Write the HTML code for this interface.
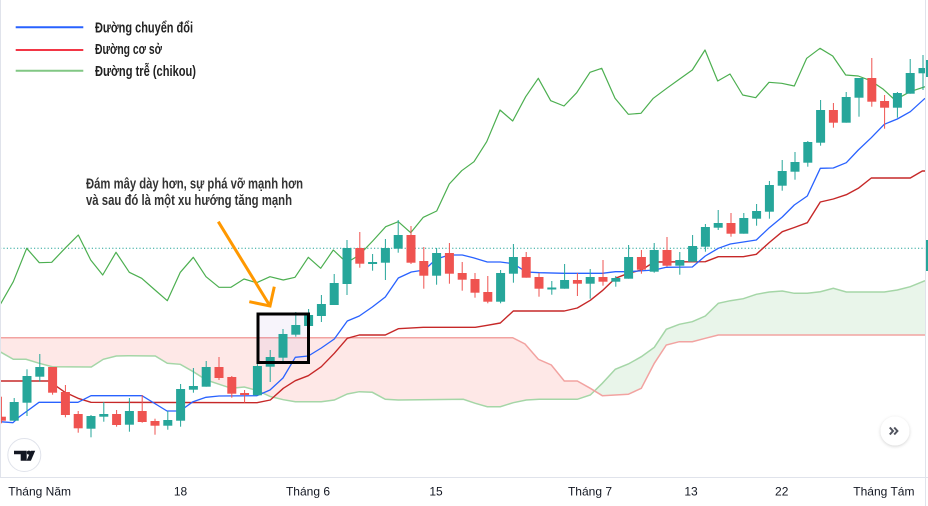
<!DOCTYPE html>
<html><head><meta charset="utf-8">
<style>
html,body{margin:0;padding:0;background:#fff;}
svg{display:block;}
.ax{font-family:"Liberation Sans",sans-serif;font-size:12px;fill:#131722;}
.lg{font-family:"Liberation Sans Narrow","Liberation Sans",sans-serif;font-size:14.5px;font-weight:bold;fill:#222;}
</style></head>
<body>
<svg width="928" height="506" viewBox="0 0 928 506" xmlns="http://www.w3.org/2000/svg">
<defs>
<clipPath id="pane"><rect x="0" y="0" width="925" height="477"/></clipPath>
<clipPath id="cl"><rect x="0" y="0" width="594.5" height="477"/></clipPath>
<clipPath id="cr"><rect x="594.5" y="0" width="331" height="477"/></clipPath>
<filter id="sh" x="-50%" y="-50%" width="200%" height="200%"><feDropShadow dx="0" dy="1" stdDeviation="1.5" flood-color="#000" flood-opacity="0.18"/></filter>
</defs>
<rect width="928" height="506" fill="#fff"/>
<g clip-path="url(#pane)">
<polygon clip-path="url(#cl)" fill="#f44336" fill-opacity="0.12" points="0,351.7 13.3,359.3 26,359.3 39.3,363.3 52.3,366.7 91.3,367 103.3,359.3 116.3,356 129.3,355.7 155.3,356 167.3,363.3 180.3,364.3 193.3,371.7 206.3,380 219.3,384.3 231.3,388.3 244.3,387 257.3,390.5 270.3,396.5 283.3,399.7 295.3,401.7 321.3,401.7 334.3,400 347.3,394 359.3,391.7 372.3,392.3 385.3,399.3 398.3,400 463.3,399.3 475.3,403.3 487.3,406.7 500.3,406.7 513.3,402.7 526.3,400 539.3,399.3 577.3,399.3 590.3,395 602.3,383.3 615.3,369.3 628.3,364 641.3,356.7 654.3,347.3 666.3,329.3 679.3,324.3 692.3,321.7 705.3,316 718.3,303.3 730.3,300.7 743.3,298.7 756.3,294.3 769.3,292 782.3,291 794.3,293.3 807.3,293.3 820.3,291.7 833.3,288.3 846.3,292 884.3,292 897.3,290 910.3,286.7 925,280.7 925,335 718.3,335 705.3,338.3 692.3,341.7 679.3,341.7 666.3,345 654.3,363.3 641.3,388.3 628.3,394.3 602.3,395.7 590.3,388.3 577.3,381 564.3,381 551.3,365 538.3,359.3 525,344 512.7,337.7 0,337.7"/>
<polygon clip-path="url(#cr)" fill="#4caf50" fill-opacity="0.12" points="0,351.7 13.3,359.3 26,359.3 39.3,363.3 52.3,366.7 91.3,367 103.3,359.3 116.3,356 129.3,355.7 155.3,356 167.3,363.3 180.3,364.3 193.3,371.7 206.3,380 219.3,384.3 231.3,388.3 244.3,387 257.3,390.5 270.3,396.5 283.3,399.7 295.3,401.7 321.3,401.7 334.3,400 347.3,394 359.3,391.7 372.3,392.3 385.3,399.3 398.3,400 463.3,399.3 475.3,403.3 487.3,406.7 500.3,406.7 513.3,402.7 526.3,400 539.3,399.3 577.3,399.3 590.3,395 602.3,383.3 615.3,369.3 628.3,364 641.3,356.7 654.3,347.3 666.3,329.3 679.3,324.3 692.3,321.7 705.3,316 718.3,303.3 730.3,300.7 743.3,298.7 756.3,294.3 769.3,292 782.3,291 794.3,293.3 807.3,293.3 820.3,291.7 833.3,288.3 846.3,292 884.3,292 897.3,290 910.3,286.7 925,280.7 925,335 718.3,335 705.3,338.3 692.3,341.7 679.3,341.7 666.3,345 654.3,363.3 641.3,388.3 628.3,394.3 602.3,395.7 590.3,388.3 577.3,381 564.3,381 551.3,365 538.3,359.3 525,344 512.7,337.7 0,337.7"/>
<polyline fill="none" stroke="#a5d6a7" stroke-width="1.5" points="0,351.7 13.3,359.3 26,359.3 39.3,363.3 52.3,366.7 91.3,367 103.3,359.3 116.3,356 129.3,355.7 155.3,356 167.3,363.3 180.3,364.3 193.3,371.7 206.3,380 219.3,384.3 231.3,388.3 244.3,387 257.3,390.5 270.3,396.5 283.3,399.7 295.3,401.7 321.3,401.7 334.3,400 347.3,394 359.3,391.7 372.3,392.3 385.3,399.3 398.3,400 463.3,399.3 475.3,403.3 487.3,406.7 500.3,406.7 513.3,402.7 526.3,400 539.3,399.3 577.3,399.3 590.3,395 602.3,383.3 615.3,369.3 628.3,364 641.3,356.7 654.3,347.3 666.3,329.3 679.3,324.3 692.3,321.7 705.3,316 718.3,303.3 730.3,300.7 743.3,298.7 756.3,294.3 769.3,292 782.3,291 794.3,293.3 807.3,293.3 820.3,291.7 833.3,288.3 846.3,292 884.3,292 897.3,290 910.3,286.7 925,280.7"/>
<polyline fill="none" stroke="#f2a3a1" stroke-width="1.5" points="0,337.7 512.7,337.7 525,344 538.3,359.3 551.3,365 564.3,381 577.3,381 590.3,388.3 602.3,395.7 628.3,394.3 641.3,388.3 654.3,363.3 666.3,345 679.3,341.7 692.3,341.7 705.3,338.3 718.3,335 925,335"/>
<line x1="0" y1="248.3" x2="925" y2="248.3" stroke="#26a69a" stroke-width="1" stroke-dasharray="1.2 2.2"/>
<rect x="258" y="314" width="50.5" height="48.5" fill="#9b78d2" fill-opacity="0.08"/>
<polyline fill="none" stroke="#4caf50" stroke-width="1.2" stroke-linejoin="round" points="0,305 13.3,281.7 26.7,248.3 39.3,262.7 51.7,262.3 65,248.3 78.3,235 90.7,260 102.7,275 116,252.3 129.3,272.3 141.7,278.3 155,290 167.3,300.7 180.3,272.3 193.3,257.3 206,276.7 219,287.3 231,287.3 244,279 256.7,282.7 270,276.7 283.3,280 295,277.3 308.3,257.3 320.7,268.3 333.3,250 346.7,262.7 359.3,255 372.7,241 385.7,226.7 398.3,221.7 410.7,232.7 423.3,217.3 436.7,211 449.3,184 461.7,170.7 474,161.7 486.7,141.7 500,110 512.7,121 525.7,96.7 538.3,78.3 550.7,100.7 564,106 576.7,92.7 590,72.3 601.7,68.3 615,98.3 628.3,114.3 641,113.3 653.3,98.3 666.7,88.3 679.3,79.3 692.3,70 705,50 717.7,81 730,74 742.7,95 755.7,97.7 769,82.3 781.7,83.3 794.3,86 806.7,58.3 820,48.3 832.7,56 845.7,75 858.3,76 870.7,80.7 883.3,89.3 895,100 910,91.7 925,86.7"/>
<polyline fill="none" stroke="#c62828" stroke-width="1.4" stroke-linejoin="round" points="0,381 52,381 57,386.7 65,392.3 78,398.3 91,402.3 257,402.7 270.3,400 283.3,388.3 295.3,380.7 308.3,375.7 321.3,366.7 334.3,353.3 347.3,338.3 359.3,335 385.3,335 398.3,328.7 423.3,327.3 475.3,327.3 487.3,325.3 500.3,323 513.3,311 564.3,311 577.3,308 590.3,300.3 602.3,290.7 615.3,278.3 628.3,273.3 641.3,270 654.3,262 705.3,261.7 718.3,256.7 743.3,256.7 756.3,254.3 769.3,242.5 782.3,231.7 794.3,227.5 807.3,222.7 820.3,202 833.3,199 846.3,194.7 858.3,188.3 871.3,178 910.3,178 922.3,171 925,171"/>
<polyline fill="none" stroke="#2962ff" stroke-width="1.3" stroke-linejoin="round" points="0,421.7 13,422.7 19,417 39,402.3 78,402.3 91,395.7 142,395.7 167,411 180,411 193,401.7 206,397.3 219,396 257,395.7 270,390 283,378 295.3,357.3 308.3,356 321.3,348 334.3,339 347.3,321 359.3,316 372.3,307 385.3,297 398.3,278 411.3,272 424.3,270 436.3,259 449.3,255 462.3,255 473.3,257.7 487.3,262 500.3,262 513.3,263.7 526.3,272 539.3,272.7 564.3,273.3 602.3,273.3 615.3,271.7 628.3,271.7 654.3,270 666.3,267.3 692.3,267 705.3,256 718.3,248.3 730.3,244 743.3,242 756.3,240 769.3,227.7 782.3,217 794.3,205 807.3,196 820.3,168.3 833.3,168 846.3,162.7 858.3,150 871.3,137.7 884.3,124.3 897.3,119 910.3,111.7 925,98.3"/>
<g fill="#26a69a">
<rect x="13.7" y="398" width="1" height="22.7"/><rect x="9.7" y="402" width="9" height="18.7"/>
<rect x="26.5" y="369.3" width="1" height="46.7"/><rect x="22.5" y="376" width="9" height="26.7"/>
<rect x="39.3" y="354" width="1" height="27.7"/><rect x="35.3" y="367" width="9" height="9.7"/>
<rect x="90.5" y="415" width="1" height="22.3"/><rect x="86.5" y="416" width="9" height="12.7"/>
<rect x="103.3" y="402" width="1" height="19.7"/><rect x="99.3" y="414" width="9" height="2.7"/>
<rect x="128.9" y="398" width="1" height="33.7"/><rect x="124.9" y="411" width="9" height="13.7"/>
<rect x="167.3" y="411" width="1" height="18.7"/><rect x="163.3" y="420" width="9" height="5.7"/>
<rect x="180.1" y="384" width="1" height="42.7"/><rect x="176.1" y="389" width="9" height="31.7"/>
<rect x="192.9" y="368" width="1" height="24.7"/><rect x="188.9" y="386" width="9" height="3.7"/>
<rect x="205.7" y="361" width="1" height="25.7"/><rect x="201.7" y="367" width="9" height="19.7"/>
<rect x="256.9" y="362.7" width="1" height="32.6"/><rect x="252.9" y="366" width="9" height="29.3"/>
<rect x="269.7" y="350" width="1" height="32"/><rect x="265.7" y="357" width="9" height="9.7"/>
<rect x="282.5" y="329" width="1" height="34.3"/><rect x="278.5" y="334" width="9" height="23.7"/>
<rect x="295.3" y="312" width="1" height="24.7"/><rect x="291.3" y="325" width="9" height="9.7"/>
<rect x="308.1" y="309" width="1" height="17"/><rect x="304.1" y="315" width="9" height="11"/>
<rect x="320.9" y="295" width="1" height="27"/><rect x="316.9" y="304" width="9" height="12"/>
<rect x="333.7" y="274" width="1" height="31"/><rect x="329.7" y="283" width="9" height="22"/>
<rect x="346.5" y="240" width="1" height="55"/><rect x="342.5" y="248" width="9" height="36"/>
<rect x="372.1" y="254" width="1" height="16.7"/><rect x="368.1" y="262" width="9" height="2"/>
<rect x="384.9" y="239" width="1" height="41"/><rect x="380.9" y="248" width="9" height="14.7"/>
<rect x="397.7" y="220" width="1" height="32.7"/><rect x="393.7" y="235" width="9" height="13.7"/>
<rect x="436.1" y="248" width="1" height="36.7"/><rect x="432.1" y="253" width="9" height="22.7"/>
<rect x="500.1" y="270" width="1" height="33.3"/><rect x="496.1" y="273" width="9" height="28.7"/>
<rect x="512.9" y="244" width="1" height="38.7"/><rect x="508.9" y="257" width="9" height="16.7"/>
<rect x="551.3" y="281" width="1" height="13.7"/><rect x="547.3" y="287.5" width="9" height="2"/>
<rect x="564.1" y="264" width="1" height="24.7"/><rect x="560.1" y="280" width="9" height="8.7"/>
<rect x="589.7" y="269" width="1" height="29.7"/><rect x="585.7" y="277" width="9" height="6.7"/>
<rect x="615.3" y="276" width="1" height="10.7"/><rect x="611.3" y="278" width="9" height="3.7"/>
<rect x="628.1" y="245" width="1" height="33.7"/><rect x="624.1" y="257" width="9" height="21.7"/>
<rect x="653.7" y="243" width="1" height="29.7"/><rect x="649.7" y="250" width="9" height="21.7"/>
<rect x="679.3" y="252" width="1" height="22.7"/><rect x="675.3" y="260" width="9" height="5.7"/>
<rect x="692.1" y="235" width="1" height="26.7"/><rect x="688.1" y="246" width="9" height="15.7"/>
<rect x="704.9" y="224" width="1" height="27.7"/><rect x="700.9" y="227" width="9" height="19.7"/>
<rect x="717.7" y="210" width="1" height="20"/><rect x="713.7" y="223" width="9" height="4.7"/>
<rect x="743.3" y="213" width="1" height="20.7"/><rect x="739.3" y="218" width="9" height="15.7"/>
<rect x="756.1" y="204" width="1" height="21.7"/><rect x="752.1" y="211" width="9" height="7.7"/>
<rect x="768.9" y="181" width="1" height="37.7"/><rect x="764.9" y="185" width="9" height="26.7"/>
<rect x="781.7" y="160" width="1" height="30.7"/><rect x="777.7" y="171" width="9" height="14.7"/>
<rect x="794.5" y="152" width="1" height="27.7"/><rect x="790.5" y="162" width="9" height="9.7"/>
<rect x="807.3" y="141" width="1" height="25.7"/><rect x="803.3" y="142" width="9" height="20.7"/>
<rect x="820.1" y="100" width="1" height="45.7"/><rect x="816.1" y="110" width="9" height="32.7"/>
<rect x="845.7" y="92" width="1" height="30.7"/><rect x="841.7" y="97" width="9" height="25.7"/>
<rect x="858.5" y="78" width="1" height="38.7"/><rect x="854.5" y="78" width="9" height="19.7"/>
<rect x="896.9" y="92" width="1" height="25.7"/><rect x="892.9" y="93" width="9" height="14.7"/>
<rect x="909.7" y="59" width="1" height="34.7"/><rect x="905.7" y="73" width="9" height="20.7"/>
<rect x="922.5" y="55" width="1" height="35"/><rect x="918.5" y="68" width="9" height="5.3"/>
</g>
<g fill="#ef5350">
<rect x="0.9" y="396.7" width="1" height="26.6"/><rect x="-3.1" y="416.7" width="9" height="4"/>
<rect x="52.1" y="367" width="1" height="27.7"/><rect x="48.1" y="367" width="9" height="25.7"/>
<rect x="64.9" y="385" width="1" height="32.3"/><rect x="60.9" y="392" width="9" height="23"/>
<rect x="77.7" y="411" width="1" height="21.7"/><rect x="73.7" y="414" width="9" height="14.3"/>
<rect x="116.1" y="410" width="1" height="16.7"/><rect x="112.1" y="414" width="9" height="11"/>
<rect x="141.7" y="395" width="1" height="27.7"/><rect x="137.7" y="411" width="9" height="11"/>
<rect x="154.5" y="418.7" width="1" height="16"/><rect x="150.5" y="421" width="9" height="4.7"/>
<rect x="218.5" y="357" width="1" height="23"/><rect x="214.5" y="367" width="9" height="11"/>
<rect x="231.3" y="376" width="1" height="21.7"/><rect x="227.3" y="377" width="9" height="16.7"/>
<rect x="244.1" y="390" width="1" height="12.7"/><rect x="240.1" y="393" width="9" height="2"/>
<rect x="359.3" y="232" width="1" height="35.7"/><rect x="355.3" y="248" width="9" height="15.7"/>
<rect x="410.5" y="226" width="1" height="38"/><rect x="406.5" y="235" width="9" height="27.7"/>
<rect x="423.3" y="247" width="1" height="41.7"/><rect x="419.3" y="261" width="9" height="14.7"/>
<rect x="448.9" y="243" width="1" height="40.7"/><rect x="444.9" y="253" width="9" height="20.7"/>
<rect x="461.7" y="262" width="1" height="28.7"/><rect x="457.7" y="273" width="9" height="6.7"/>
<rect x="474.5" y="273" width="1" height="24.7"/><rect x="470.5" y="279" width="9" height="13.7"/>
<rect x="487.3" y="276" width="1" height="27.3"/><rect x="483.3" y="292" width="9" height="9.7"/>
<rect x="525.7" y="252" width="1" height="25.7"/><rect x="521.7" y="257" width="9" height="20.7"/>
<rect x="538.5" y="273" width="1" height="23.7"/><rect x="534.5" y="277" width="9" height="11.7"/>
<rect x="576.9" y="273" width="1" height="23"/><rect x="572.9" y="280" width="9" height="3.7"/>
<rect x="602.5" y="260" width="1" height="25.7"/><rect x="598.5" y="277" width="9" height="4.7"/>
<rect x="640.9" y="250" width="1" height="23.7"/><rect x="636.9" y="257" width="9" height="12.7"/>
<rect x="666.5" y="237" width="1" height="29.7"/><rect x="662.5" y="250" width="9" height="15.7"/>
<rect x="730.5" y="213" width="1" height="23.7"/><rect x="726.5" y="223" width="9" height="10.7"/>
<rect x="832.9" y="103" width="1" height="24.7"/><rect x="828.9" y="110" width="9" height="12.7"/>
<rect x="871.3" y="58" width="1" height="48.7"/><rect x="867.3" y="78" width="9" height="23.7"/>
<rect x="884.1" y="95" width="1" height="33.7"/><rect x="880.1" y="101" width="9" height="6.7"/>
</g>
<rect x="258" y="314" width="50.5" height="48.5" fill="none" stroke="#000" stroke-width="3"/>
<line x1="218.3" y1="221.7" x2="270" y2="306" stroke="#ff9800" stroke-width="3"/>
<polyline points="249.3,301.7 270,306 274.3,286.7" fill="none" stroke="#ff9800" stroke-width="3"/>
<text class="lg" x="86" y="188.3" textLength="217" lengthAdjust="spacingAndGlyphs" style="fill:#333">Đám mây dày hơn, sự phá vỡ mạnh hơn</text>
<text class="lg" x="86" y="205" textLength="206" lengthAdjust="spacingAndGlyphs" style="fill:#333">và sau đó là một xu hướng tăng mạnh</text>
<circle cx="24.3" cy="455" r="16.5" fill="#fff" stroke="#e0e3eb" stroke-width="1"/>
<path d="M14,450.7 H26.7 V460.7 H20.7 V454.2 H14 Z" fill="#131722"/>
<circle cx="28.8" cy="452.6" r="2" fill="#131722"/>
<path d="M30.8,450.7 H35.2 L30.9,460.7 H26.5 Z" fill="#131722"/>
<circle cx="895" cy="431" r="14.5" fill="#fff" filter="url(#sh)"/>
<polyline points="889.8,427.5 893,431 889.8,434.5" fill="none" stroke="#50535e" stroke-width="2"/>
<polyline points="894.2,427.5 897.4,431 894.2,434.5" fill="none" stroke="#50535e" stroke-width="2"/>
</g>
<line x1="15.7" y1="27.3" x2="83.3" y2="27.3" stroke="#2962ff" stroke-width="2"/>
<line x1="15.7" y1="50" x2="83.3" y2="50" stroke="#f23645" stroke-width="2"/>
<line x1="15.7" y1="70.7" x2="83.3" y2="70.7" stroke="#81c784" stroke-width="2"/>
<text class="lg" x="95" y="32.5" textLength="98" lengthAdjust="spacingAndGlyphs">Đường chuyển đổi</text>
<text class="lg" x="95" y="54" textLength="67" lengthAdjust="spacingAndGlyphs">Đường cơ sở</text>
<text class="lg" x="95" y="75.8" textLength="101" lengthAdjust="spacingAndGlyphs">Đường trễ (chikou)</text>
<line x1="0.5" y1="0" x2="0.5" y2="477" stroke="#e0e3eb" stroke-width="1"/>
<line x1="0" y1="477.5" x2="928" y2="477.5" stroke="#e0e3eb" stroke-width="1"/>
<line x1="925.5" y1="0" x2="925.5" y2="506" stroke="#e0e3eb" stroke-width="1"/>
<rect x="926" y="60" width="2" height="17" fill="#26a69a"/>
<rect x="926" y="240" width="2" height="31" fill="#26a69a"/>
<text class="ax" x="8.3" y="495.5">Tháng Năm</text>
<text class="ax" x="180.5" y="495.5" text-anchor="middle">18</text>
<text class="ax" x="308" y="495.5" text-anchor="middle">Tháng 6</text>
<text class="ax" x="436" y="495.5" text-anchor="middle">15</text>
<text class="ax" x="590" y="495.5" text-anchor="middle">Tháng 7</text>
<text class="ax" x="691" y="495.5" text-anchor="middle">13</text>
<text class="ax" x="781.7" y="495.5" text-anchor="middle">22</text>
<text class="ax" x="853.3" y="495.5">Tháng Tám</text>
</svg>
</body></html>
